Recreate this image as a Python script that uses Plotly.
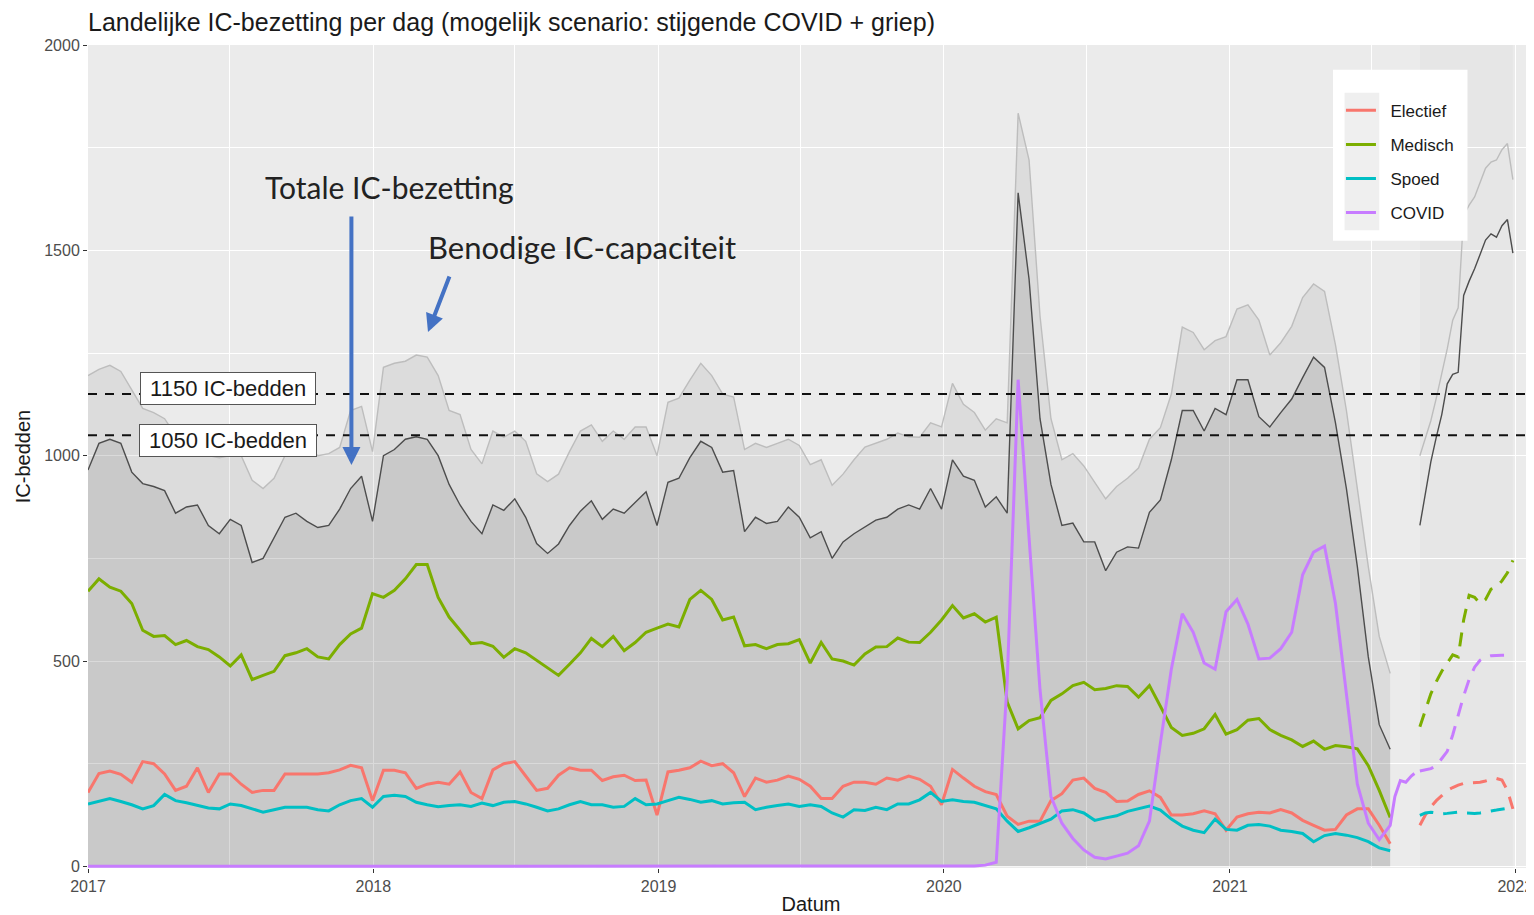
import pandas as pd
import plotly.graph_objects as go

# two-weekly observations, 2017-01-01 .. 2021-07-25
dates = pd.date_range("2017-01-01", periods=120, freq="14D")

totaal = [965, 1030, 1040, 1030, 960, 932, 925, 915, 860, 875, 880, 830, 810, 845, 830, 740,
          750, 800, 850, 860, 840, 825, 830, 870, 920, 950, 840, 1000, 1015, 1040, 1046,
          1040, 1000, 930, 880, 840, 810, 880, 867, 895, 850, 786, 762, 785, 830, 865,
          890, 845, 870, 860, 885, 912, 830, 935, 945, 995, 1035, 1020, 960, 964, 815,
          850, 835, 840, 875, 850, 800, 815, 750, 790, 810, 827, 843, 850, 870, 880,
          870, 920, 870, 990, 950, 940, 875, 900, 860, 1640, 1430, 1090, 930, 830, 836,
          790, 790, 720, 765, 778, 775, 862, 892, 990, 1110, 1110, 1060, 1115, 1100, 1185,
          1185, 1095, 1070, 1105, 1138, 1190, 1240, 1215, 1080, 920, 730, 510, 345, 285]

benodigd = [1195, 1210, 1220, 1205, 1160, 1115, 1105, 1090, 1050, 1030, 1010, 1000, 995, 1000,
            1000, 940, 920, 945, 1000, 1030, 1020, 1000, 1005, 1020, 1110, 1120, 1010, 1215,
            1225, 1230, 1245, 1240, 1195, 1110, 1100, 1015, 980, 1060, 1045, 1060, 1035, 956,
            937, 955, 1010, 1060, 1075, 1035, 1060, 1040, 1070, 1070, 1000, 1130, 1140, 1184,
            1225, 1195, 1150, 1143, 1015, 1030, 1020, 1030, 1040, 1025, 978, 990, 928, 955,
            990, 1021, 1030, 1040, 1055, 1046, 1045, 1080, 1070, 1176, 1125, 1105, 1062, 1090,
            1080, 1834, 1720, 1340, 1090, 990, 1005, 975, 935, 895, 925, 945, 970, 1040, 1068,
            1150, 1313, 1300, 1258, 1280, 1290, 1357, 1367, 1330, 1245, 1275, 1315, 1385, 1418,
            1400, 1270, 1110, 920, 730, 560, 470]

medisch = [670, 700, 680, 670, 640, 575, 560, 562, 540, 550, 535, 528, 510, 488, 515, 455,
           465, 475, 513, 520, 530, 510, 505, 540, 566, 580, 664, 655, 672, 700, 735,
           735, 655, 607, 575, 542, 545, 536, 509, 530, 520, 501, 484, 465, 492, 520,
           555, 535, 560, 525, 545, 570, 580, 590, 583, 650, 672, 650, 600, 607, 537,
           540, 530, 540, 542, 552, 495, 545, 505, 500, 490, 517, 534, 535, 556, 546,
           545, 570, 600, 635, 605, 615, 595, 607, 400, 335, 355, 362, 404, 420, 440,
           448, 430, 433, 440, 438, 412, 440, 390, 338, 319, 324, 335, 370, 322, 333,
           356, 360, 333, 319, 308, 292, 305, 285, 294, 291, 286, 245, 185, 119]

electief = [180, 226, 232, 224, 205, 255, 250, 225, 185, 195, 240, 180, 225, 225, 200, 180,
            185, 185, 225, 225, 225, 225, 228, 235, 246, 240, 160, 234, 234, 228, 190,
            200, 205, 200, 230, 180, 165, 235, 250, 255, 220, 185, 190, 222, 240, 234,
            234, 209, 218, 222, 209, 210, 125, 230, 234, 240, 256, 245, 250, 228, 170,
            215, 205, 210, 220, 212, 195, 165, 165, 195, 205, 205, 200, 215, 210, 220,
            212, 195, 150, 236, 215, 195, 182, 175, 122, 102, 110, 110, 160, 177, 210,
            215, 190, 180, 158, 159, 175, 184, 168, 125, 125, 128, 135, 128, 88, 120,
            128, 132, 130, 138, 130, 112, 100, 88, 90, 125, 140, 140, 100, 55]

spoed = [152, 158, 165, 158, 150, 140, 148, 175, 160, 155, 148, 142, 140, 152, 148, 140,
         132, 138, 144, 144, 144, 138, 135, 150, 160, 165, 144, 170, 173, 170, 156,
         150, 145, 148, 150, 146, 154, 148, 156, 158, 152, 144, 135, 140, 150, 158,
         150, 150, 144, 146, 165, 150, 152, 160, 168, 163, 156, 160, 152, 155, 156,
         138, 144, 148, 152, 146, 150, 146, 130, 120, 138, 136, 144, 138, 152, 152,
         162, 180, 158, 162, 158, 156, 148, 140, 110, 85, 94, 105, 115, 135, 138,
         130, 112, 118, 123, 134, 140, 147, 137, 115, 98, 88, 82, 115, 90, 88,
         100, 102, 98, 88, 85, 80, 60, 75, 80, 76, 70, 60, 45, 38]

covid = [0] * 81 + [1, 3, 10, 450, 1185, 800, 430, 170, 105, 68, 40,
                    22, 18, 25, 32, 50, 110, 300, 480, 615, 570, 495, 480, 620, 650,
                    590, 505, 507, 530, 570, 710, 765, 780, 640, 420, 200, 105, 65, 100]
covid_extra_dates = ["2021-07-31", "2021-08-07", "2021-08-14", "2021-08-21", "2021-08-25"]
covid_extra = [170, 209, 205, 220, 226]

# scenario (weekly), 2021-09-01 .. 2021-12-29
fc_dates = pd.date_range("2021-09-01", periods=18, freq="7D")
fc_totaal = [830, 905, 985, 1045, 1100, 1175, 1198, 1203, 1390, 1425, 1455, 1490, 1525,
             1540, 1532, 1560, 1575, 1493]
fc_benodigd = [1000, 1045, 1085, 1140, 1200, 1260, 1330, 1360, 1585, 1610, 1630, 1664, 1700,
               1715, 1720, 1745, 1760, 1672]
fc_medisch = [340, 380, 420, 450, 475, 495, 515, 510, 600, 660, 655, 640, 650, 675, 680, 695,
              715, 745]
fc_covid = [232, 235, 238, 245, 262, 280, 320, 370, 415, 455, 485, 502, 510, 513, 514, 514,
            514, 514]
fc_electief = [100, 125, 145, 160, 172, 185, 192, 198, 202, 203, 204, 205, 208, 212, 214, 210,
               185, 140]
fc_spoed = [124, 130, 132, 130, 128, 129, 131, 132, 130, 129, 129, 130, 133, 135, 137, 139,
            142, 144]

capaciteit = [1150, 1050]
capaciteit_labels = ["1150 IC-bedden", "1050 IC-bedden"]

colors = {"Electief": "#F8766D", "Medisch": "#7CAE00", "Spoed": "#00BFC4", "COVID": "#C77CFF"}
nb = "\u00a0"

fig = go.Figure()

# grey areas: required capacity and total occupancy
fig.add_trace(go.Scatter(x=dates, y=benodigd, mode="lines", fill="tozeroy",
                         fillcolor="rgba(0,0,0,0.064)", line=dict(color="#BDBDBD", width=1.4),
                         showlegend=False, hoverinfo="skip"))
fig.add_trace(go.Scatter(x=dates, y=totaal, mode="lines", fill="tozeroy",
                         fillcolor="rgba(0,0,0,0.085)", line=dict(color="#4D4D4D", width=1.4),
                         showlegend=False, hoverinfo="skip"))
fig.add_trace(go.Scatter(x=fc_dates, y=fc_benodigd, mode="lines",
                         line=dict(color="#BDBDBD", width=1.4), showlegend=False))
fig.add_trace(go.Scatter(x=fc_dates, y=fc_totaal, mode="lines",
                         line=dict(color="#4D4D4D", width=1.4), showlegend=False))

series = [("Electief", electief, fc_electief), ("Medisch", medisch, fc_medisch),
          ("Spoed", spoed, fc_spoed)]
for name, vals, fc in series:
    fig.add_trace(go.Scatter(x=dates, y=vals, mode="lines", name=nb * 2 + name, legendgroup=name,
                             line=dict(color=colors[name], width=3)))
    fig.add_trace(go.Scatter(x=fc_dates, y=fc, mode="lines", legendgroup=name, showlegend=False,
                             line=dict(color=colors[name], width=3, dash="14px,10px")))

fig.add_trace(go.Scatter(x=list(dates) + list(pd.to_datetime(covid_extra_dates)),
                         y=covid + covid_extra, mode="lines", name=nb * 2 + "COVID",
                         legendgroup="COVID", line=dict(color=colors["COVID"], width=3)))
fig.add_trace(go.Scatter(x=fc_dates, y=fc_covid, mode="lines", legendgroup="COVID",
                         showlegend=False,
                         line=dict(color=colors["COVID"], width=3, dash="14px,10px")))

# scenario period shading
fig.add_shape(type="rect", xref="x", yref="paper", x0=fc_dates[0], x1=fc_dates[-1], y0=0, y1=1,
              fillcolor="rgba(0,0,0,0.02)", line_width=0, layer="below")

for cap in capaciteit:
    fig.add_shape(type="line", xref="paper", x0=0, x1=1, y0=cap, y1=cap,
                  line=dict(color="#111111", width=2, dash="9px,8px"))

# legend box (ggplot style: white box, grey key background)
fig.add_shape(type="rect", xref="paper", yref="paper", x0=0.861, x1=0.954, y0=0.762, y1=0.970,
              fillcolor="white", line_width=0, layer="above")
fig.add_shape(type="rect", xref="paper", yref="paper", x0=0.869, x1=0.893, y0=0.775, y1=0.942,
              fillcolor="#EFEFEF", line_width=0, layer="above")

label_y = [1164, 1038]
for txt, ly in zip(capaciteit_labels, label_y):
    fig.add_annotation(x="2017-06-29", y=ly, text=nb + txt + nb, showarrow=False,
                       font=dict(family="Liberation Sans", size=22, color="#1A1A1A"),
                       bgcolor="white", bordercolor="#555555", borderwidth=1, borderpad=3)

fig.add_annotation(x="2018-01-22", y=1654, text="Totale IC-bezetting", showarrow=False,
                   font=dict(family="Lato", size=30, color="#222222"))
fig.add_annotation(x="2018-09-25", y=1508, text="Benodige IC-capaciteit", showarrow=False,
                   font=dict(family="Lato", size=31, color="#222222"))
fig.add_annotation(x="2017-12-04", y=977, text="", showarrow=True, ax=0, ay=-250,
                   arrowhead=2, arrowsize=0.9, arrowwidth=4, arrowcolor="#4472C4")
fig.add_annotation(x="2018-03-12", y=1301, text="", showarrow=True, ax=22, ay=-57,
                   arrowhead=2, arrowsize=0.9, arrowwidth=4, arrowcolor="#4472C4")

# page has an 8px body margin: figure is offset accordingly
fig.update_layout(
    width=1526, height=907,
    margin=dict(l=80, r=0, t=37, b=47),
    paper_bgcolor="white", plot_bgcolor="#EBEBEB",
    font=dict(family="Liberation Sans", color="#1A1A1A"),
    title=dict(text="Landelijke IC-bezetting per dag (mogelijk scenario: stijgende COVID + griep)",
               x=80 / 1526, xanchor="left", y=1 - 14 / 907, yanchor="middle",
               font=dict(size=25, color="#1A1A1A")),
    legend=dict(x=0.8665, y=0.942, xanchor="left", yanchor="top", bgcolor="rgba(0,0,0,0)",
                font=dict(size=17, color="#1A1A1A"), tracegroupgap=9, itemwidth=30),
)

fig.update_xaxes(range=["2017-01-01", "2022-01-25"], dtick="M12", tickformat="%Y",
                 showgrid=True, gridcolor="white", gridwidth=1.3,
                 minor=dict(dtick="M6", showgrid=True, gridcolor="white", gridwidth=0.6),
                 ticks="outside", ticklen=4, tickcolor="#333333",
                 tickfont=dict(size=16, color="#4D4D4D"), zeroline=False,
                 title=dict(text="Datum", font=dict(size=20), standoff=6))
fig.update_yaxes(range=[-4, 2000], dtick=500, showgrid=True, gridcolor="white", gridwidth=1.3,
                 minor=dict(dtick=250, showgrid=True, gridcolor="white", gridwidth=0.6),
                 ticks="outside", ticklen=4, tickcolor="#333333",
                 tickfont=dict(size=16, color="#4D4D4D"), zeroline=False,
                 title=dict(text="IC-bedden", font=dict(size=20), standoff=8))

fig.write_html("out.html")
